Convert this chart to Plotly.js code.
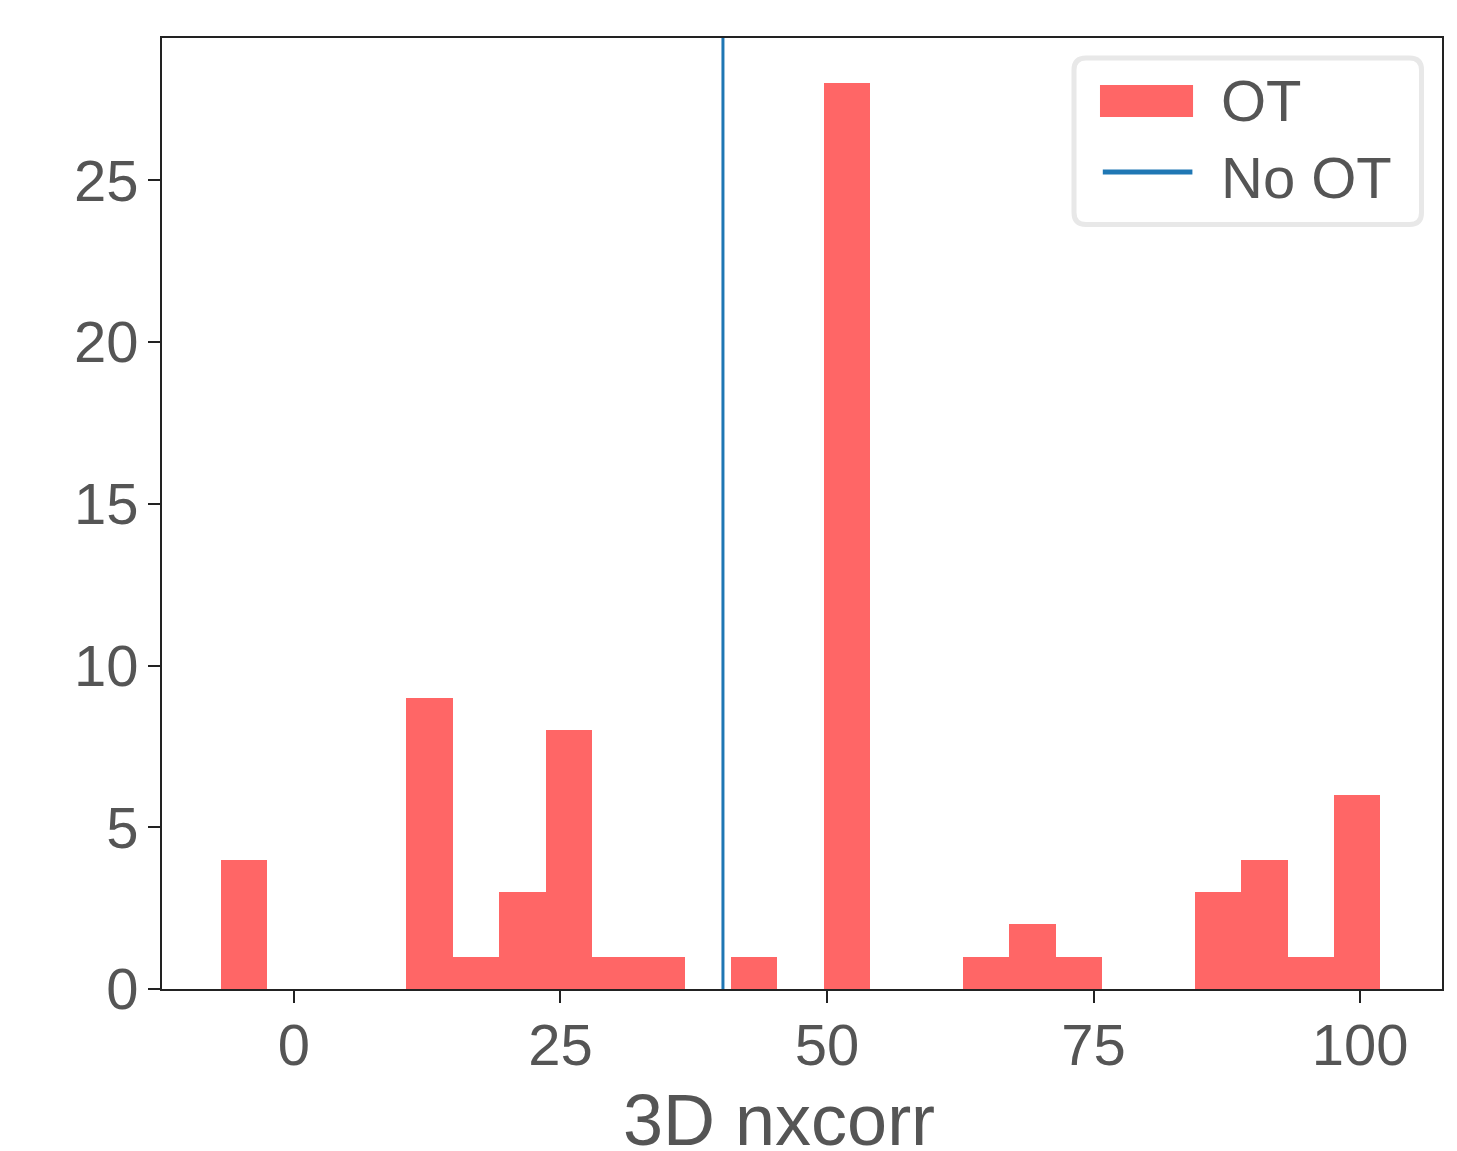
<!DOCTYPE html>
<html>
<head>
<meta charset="utf-8">
<script src="https://cdn.plot.ly/plotly-3.0.1.min.js"></script>
<style>html,body{margin:0;padding:0;background:#fff;}#chart{width:1457px;height:1151px;}</style>
</head>
<body>
<div id="chart"></div>
<script>
// Histogram bin edges (3D nxcorr) and counts for "OT"
const binEdges = [-6.85, -2.50, 1.85, 6.20, 10.55, 14.90, 19.25, 23.60, 27.95, 32.30, 36.65,
  41.00, 45.35, 49.70, 54.05, 58.40, 62.75, 67.10, 71.45, 75.80, 80.15, 84.50, 88.85,
  93.20, 97.55, 101.90];
const otCounts = [4, 0, 0, 0, 9, 1, 3, 8, 1, 1, 0, 1, 0, 28, 0, 0, 1, 2, 1, 0, 0, 3, 4, 1, 6];
// "No OT" value (vertical line)
const noOtValue = 40.24;
const xTicks = [0, 25, 50, 75, 100];
const yTicks = [0, 5, 10, 15, 20, 25];
const legendLabels = ["OT", "No OT"];
const xTitle = "3D nxcorr";

const centers = otCounts.map((_, i) => (binEdges[i] + binEdges[i + 1]) / 2);
const widths = otCounts.map((_, i) => binEdges[i + 1] - binEdges[i]);

const red = "#ff6666";
const blue = "#1f77b4";
const txt = "#555555";
const font = "Liberation Sans, Arial, sans-serif";

const traces = [{
  type: "bar",
  x: centers,
  y: otCounts,
  width: widths,
  marker: {color: red, line: {width: 0}},
  name: legendLabels[0],
  showlegend: false,
  hoverinfo: "x+y"
}];

// legend geometry in paper coords
const lx0 = 0.7125, lx1 = 0.984, ly0 = 0.804, ly1 = 0.979;
const rx = 12 / 1280, ry = 12 / 951;
const legendPath = `M ${lx0 + rx} ${ly1} L ${lx1 - rx} ${ly1} Q ${lx1} ${ly1} ${lx1} ${ly1 - ry} ` +
  `L ${lx1} ${ly0 + ry} Q ${lx1} ${ly0} ${lx1 - rx} ${ly0} L ${lx0 + rx} ${ly0} Q ${lx0} ${ly0} ${lx0} ${ly0 + ry} ` +
  `L ${lx0} ${ly1 - ry} Q ${lx0} ${ly1} ${lx0 + rx} ${ly1} Z`;

const layout = {
  width: 1457,
  height: 1151,
  margin: {l: 162, r: 15, t: 38, b: 162},
  paper_bgcolor: "#ffffff",
  plot_bgcolor: "#ffffff",
  showlegend: false,
  bargap: 0,
  font: {family: font, color: txt, size: 58},
  xaxis: {
    range: [-12.38, 107.69],
    tickvals: xTicks,
    ticktext: xTicks.map(String),
    ticks: "outside",
    ticklen: 12,
    tickwidth: 2,
    tickcolor: "#222",
    ticklabelstandoff: -8,
    showline: true,
    linecolor: "#222",
    linewidth: 2,
    mirror: true,
    showgrid: false,
    zeroline: false,
    tickfont: {family: font, size: 58, color: txt}
  },
  yaxis: {
    range: [0, 29.4],
    tickvals: yTicks,
    ticktext: yTicks.map(String),
    ticks: "outside",
    ticklen: 12,
    tickwidth: 2,
    tickcolor: "#222",
    ticklabelstandoff: -2,
    showline: true,
    linecolor: "#222",
    linewidth: 2,
    mirror: true,
    showgrid: false,
    zeroline: false,
    tickfont: {family: font, size: 58, color: txt}
  },
  shapes: [
    {type: "line", xref: "x", yref: "paper", x0: noOtValue, x1: noOtValue, y0: 0, y1: 1,
     line: {color: blue, width: 3}},
    {type: "path", xref: "paper", yref: "paper", path: legendPath,
     fillcolor: "rgba(255,255,255,0.85)", line: {color: "#e8e8e8", width: 5}},
    {type: "rect", xref: "paper", yref: "paper", x0: 0.7328, x1: 0.8055, y0: 0.917, y1: 0.9506,
     fillcolor: red, line: {width: 0}},
    {type: "line", xref: "paper", yref: "paper", x0: 0.735, x1: 0.805, y0: 0.859, y1: 0.859,
     line: {color: blue, width: 5}}
  ],
  annotations: [
    {xref: "paper", yref: "paper", x: 0.826, y: 0.934, xanchor: "left", yanchor: "middle",
     text: legendLabels[0], showarrow: false, font: {family: font, size: 58, color: txt}},
    {xref: "paper", yref: "paper", x: 0.826, y: 0.853, xanchor: "left", yanchor: "middle",
     text: legendLabels[1], showarrow: false, font: {family: font, size: 58, color: txt}},
    {xref: "paper", yref: "paper", x: 0.482, y: -0.138, xanchor: "center", yanchor: "middle",
     text: xTitle, showarrow: false, font: {family: font, size: 72, color: txt}}
  ]
};

Plotly.newPlot("chart", traces, layout, {displayModeBar: false, staticPlot: true});
</script>
</body>
</html>
